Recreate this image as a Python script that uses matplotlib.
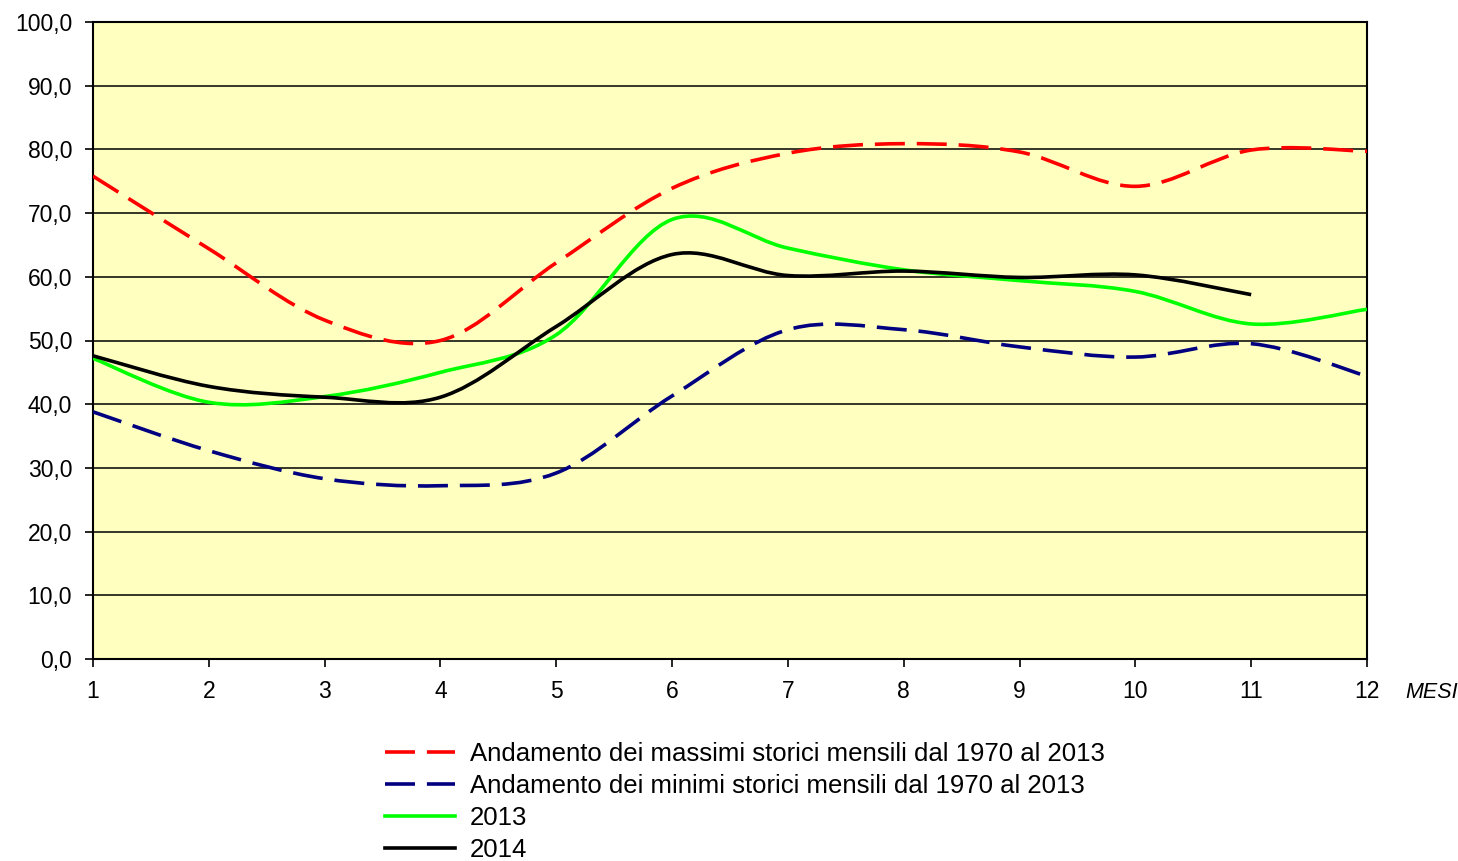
import matplotlib
matplotlib.use("Agg")
import matplotlib.pyplot as plt
from matplotlib.path import Path
from matplotlib.patches import PathPatch
from matplotlib.lines import Line2D

plt.rcParams['font.family'] = ['Liberation Sans', 'DejaVu Sans']

# monthly values
mesi = [1, 2, 3, 4, 5, 6, 7, 8, 9, 10, 11, 12]
massimi = [75.8, 64.4, 53.2, 50.0, 62.2, 73.9, 79.4, 80.9, 79.6, 74.2, 79.9, 79.7]
minimi = [38.8, 32.7, 28.3, 27.2, 29.2, 41.3, 51.7, 51.7, 49.0, 47.4, 49.5, 44.4]
anno_2013 = [47.2, 40.3, 41.2, 45.0, 50.9, 69.0, 64.5, 61.1, 59.4, 57.7, 52.6, 54.9]
anno_2014 = [47.6, 42.8, 41.1, 41.1, 52.2, 63.5, 60.2, 60.9, 59.9, 60.3, 57.2]

etichette = ["Andamento dei massimi storici mensili dal 1970 al 2013",
             "Andamento dei minimi storici mensili dal 1970 al 2013",
             "2013", "2014"]
yticks = [0, 10, 20, 30, 40, 50, 60, 70, 80, 90, 100]


def smooth_path(xs, ys):
    # smoothed line like a spreadsheet chart: cubic bezier segments
    # with catmull-rom control points
    n = len(xs)
    verts = [(xs[0], ys[0])]
    codes = [Path.MOVETO]
    for i in range(n - 1):
        x0, y0 = xs[max(i - 1, 0)], ys[max(i - 1, 0)]
        x1, y1 = xs[i], ys[i]
        x2, y2 = xs[i + 1], ys[i + 1]
        x3, y3 = xs[min(i + 2, n - 1)], ys[min(i + 2, n - 1)]
        c1 = (x1 + (x2 - x0) / 6, y1 + (y2 - y0) / 6)
        c2 = (x2 - (x3 - x1) / 6, y2 - (y3 - y1) / 6)
        verts += [c1, c2, (x2, y2)]
        codes += [Path.CURVE4, Path.CURVE4, Path.CURVE4]
    return Path(verts, codes)


fig = plt.figure(figsize=(14.58, 8.61), dpi=100)
ax = fig.add_axes([93 / 1458, 1 - 659 / 861, 1274 / 1458, 637 / 861])
ax.set_facecolor('#FFFFC0')

lw = 2.6
tratteggio = (0, (8.3, 3.3))
stili = [
    (massimi, '#FF0000', tratteggio),
    (minimi, '#000080', tratteggio),
    (anno_2013, '#00FF00', '-'),
    (anno_2014, '#000000', '-'),
]

handles = []
for valori, colore, ls in stili:
    p = smooth_path(mesi[:len(valori)], valori)
    ax.add_patch(PathPatch(p, fill=False, edgecolor=colore, lw=lw,
                           linestyle=ls, capstyle='butt', zorder=3))
    handles.append(Line2D([], [], color=colore, lw=lw, linestyle=ls))

ax.set_xlim(1, 12)
ax.set_ylim(0, 100)
ax.set_xticks(mesi)
ax.set_yticks(yticks)
ax.set_yticklabels([f"{v:.1f}".replace('.', ',') for v in yticks])
ax.yaxis.grid(True, color='black', lw=1.1)
ax.set_axisbelow(True)

for s in ax.spines.values():
    s.set_linewidth(1.5)
    s.set_color('black')
ax.tick_params(axis='both', length=6, width=1.2, labelsize=16.5, pad=9)

ax.text(1.0 + 38 / 1274, -33 / 637, "MESI", transform=ax.transAxes,
        fontsize=15.5, style='italic', ha='left', va='center')

fs = 18.5
fs_px = fs * 100 / 72
fig.legend(handles, etichette, loc='upper left',
           bbox_to_anchor=(385 / 1458, 1 - 742 / 861),
           frameon=False, borderaxespad=0, borderpad=0, fontsize=fs,
           handlelength=70 / fs_px, handletextpad=15 / fs_px,
           labelspacing=0.31)

fig.savefig('out.png', dpi=100)
